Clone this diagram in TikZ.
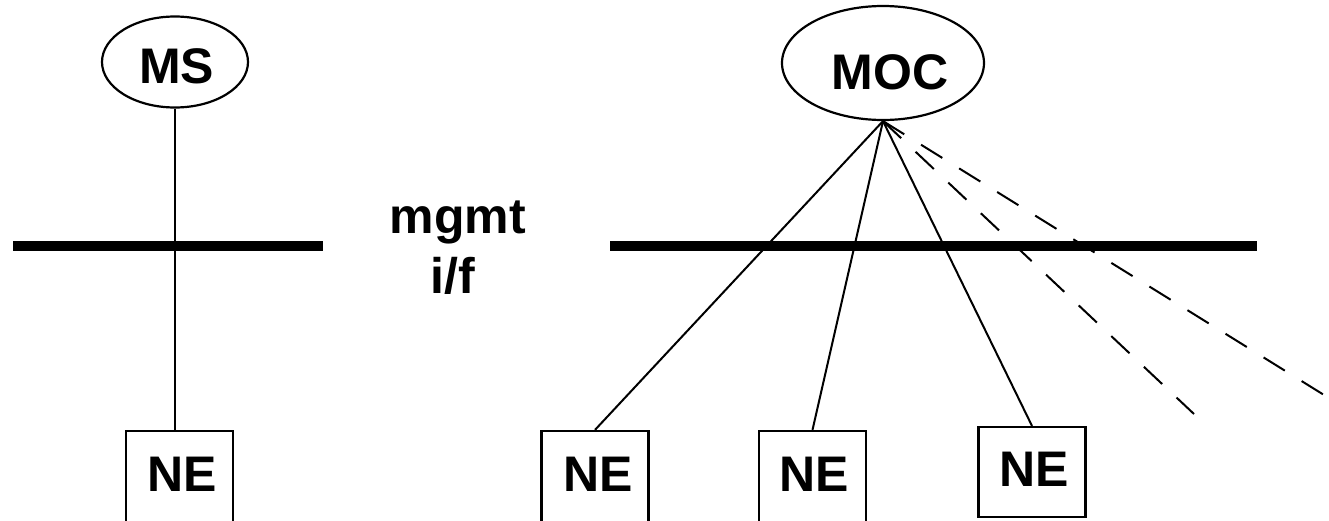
\documentclass[tikz,border=0pt]{standalone}
\usepackage{fontspec}
\setmainfont{Liberation Sans}
\usetikzlibrary{shapes.geometric}
\begin{document}
\begin{tikzpicture}[x=0.5pt,y=-0.5pt,
  conn/.style={line width=1pt},
  dashconn/.style={line width=1pt, dash pattern=on 12.5pt off 9.9pt},
  ifbar/.style={line width=4.75pt},
  oval/.style={draw, ellipse, line width=1.1pt, inner sep=0pt},
  nebox/.style={draw, rectangle, line width=1.1pt, minimum width=53.5pt, inner sep=0pt},
  lbl/.style={font=\fontsize{25}{30}\selectfont\bfseries, inner sep=0pt}
]
\useasboundingbox (0,0) rectangle (1329,520);
\clip (0,0) rectangle (1329,520);

% management interface bars
\draw[ifbar] (13,246) -- (323,246);
\draw[ifbar] (610,246) -- (1257,246);

% ellipses
\node[oval, minimum width=73pt, minimum height=45.5pt] (ms) at (175,62) {};
\node[oval, minimum width=101pt, minimum height=57pt] (moc) at (883,63) {};
\node[lbl] (mstext) at (176.5,66.5) {MS};
\node[lbl] (moctext) at (890,72) {MOC};

% NE boxes
\node[nebox, minimum height=50pt] (ne1) at (179.5,481) {};
\node[nebox, minimum height=50pt] (ne2) at (595,481) {};
\node[nebox, minimum height=50pt] (ne3) at (812.5,481) {};
\node[nebox, minimum height=45pt] (ne4) at (1032,472) {};
\node[lbl] (ne1t) at (182,474) {NE};
\node[lbl] (ne2t) at (598,474) {NE};
\node[lbl] (ne3t) at (814,474) {NE};
\node[lbl] (ne4t) at (1034,469) {NE};

% interface label
\node[lbl, anchor=base] (mgmt) at (458,233) {mgmt};
\node[lbl, anchor=base] (if) at (453,293) {i/f};

% connectors
\draw[conn] (ms.south) -- (ms.south |- ne1.north);
\draw[conn] (moc.south) -- (ne2.north);
\draw[conn] (moc.south) -- (ne3.north);
\draw[conn] (moc.south) -- (ne4.north);
\coordinate (d1) at (1194,414);
\coordinate (d2) at (1345,408);
\draw[dashconn] (moc.south) -- (d1);
\draw[dashconn] (moc.south) -- (d2);
\end{tikzpicture}
\end{document}
